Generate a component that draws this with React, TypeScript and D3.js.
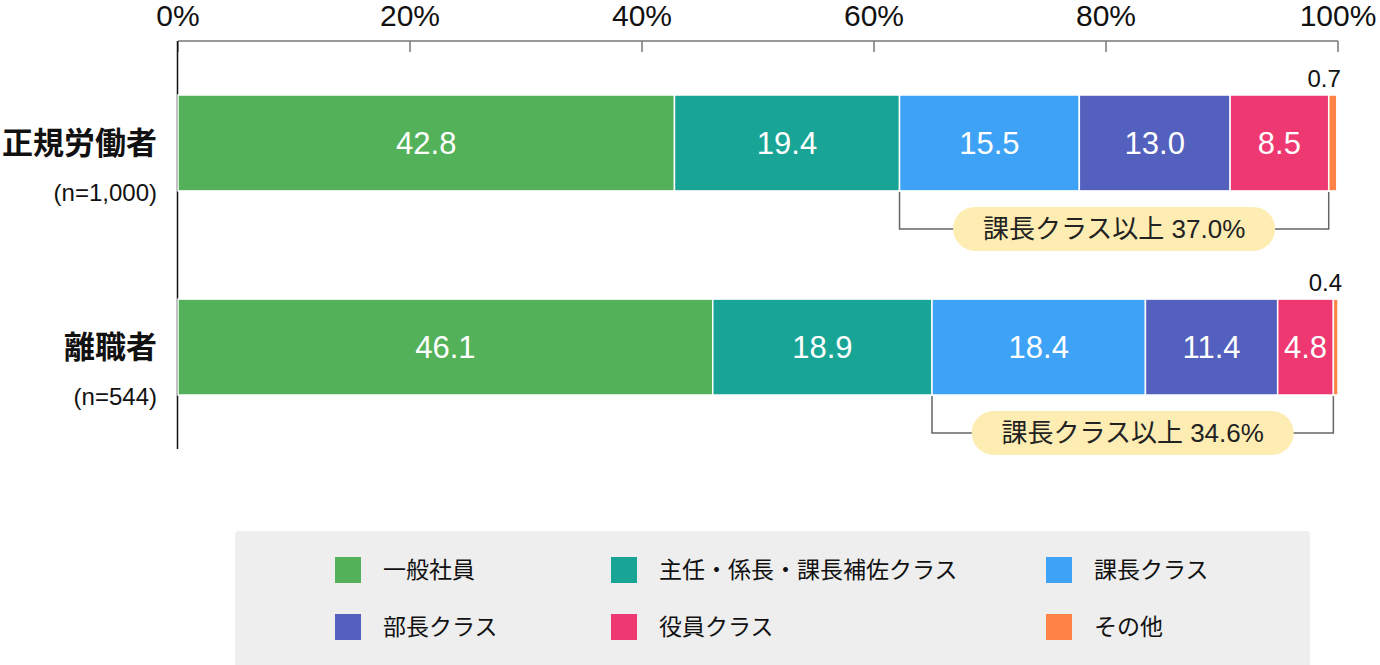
import * as d3 from 'd3';
import React, { useEffect, useRef } from 'react';

const categories = ['正規労働者', '離職者'];
const sampleLabels = ['(n=1,000)', '(n=544)'];
const seriesNames = ['一般社員', '主任・係長・課長補佐クラス', '課長クラス', '部長クラス', '役員クラス', 'その他'];
const regularValues = [42.8, 19.4, 15.5, 13.0, 8.5, 0.7];
const leaverValues = [46.1, 18.9, 18.4, 11.4, 4.8, 0.4];
const bracketLabels = ['課長クラス以上 37.0%', '課長クラス以上 34.6%'];
const tickValues = [0, 20, 40, 60, 80, 100];
const colors = ['#53b159', '#19a596', '#3ea3f7', '#5460bd', '#ee3871', '#ff8246'];

const FONT = '"Liberation Sans", "Noto Sans CJK JP", sans-serif';

export default () => {
    const ref = useRef<any>();

    function draw() {
        const width = 1380;
        const height = 665;

        const svg = d3.select<any, any>(ref.current)
            .attr('width', width)
            .attr('height', height)
            .style('font-family', FONT);
        svg.selectAll('*').remove();

        const rows = categories.map((c, i) => {
            const vals = i === 0 ? regularValues : leaverValues;
            const row: any = { category: c };
            seriesNames.forEach((s, j) => (row[s] = vals[j]));
            return row;
        });

        const xScale = d3.scaleLinear().domain([0, 100]).range([178, 1338]);
        const yScale = d3.scaleBand().domain(categories).range([95, 395]).paddingInner(0.53);
        const stacked = d3.stack<any>().keys(seriesNames)(rows);

        // top axis
        const axisY = 41;
        svg.append('line')
            .attr('x1', xScale(0)).attr('x2', xScale(100))
            .attr('y1', axisY).attr('y2', axisY)
            .attr('stroke', '#777').attr('stroke-width', 1.5);
        svg.selectAll('.tick').data(tickValues).join('line')
            .attr('x1', (d) => xScale(d)).attr('x2', (d) => xScale(d))
            .attr('y1', axisY).attr('y2', axisY + 11)
            .attr('stroke', '#777').attr('stroke-width', 1.5);
        svg.selectAll('.tickLabel').data(tickValues).join('text')
            .attr('x', (d) => xScale(d))
            .attr('y', 26)
            .attr('text-anchor', 'middle')
            .attr('font-size', 30)
            .attr('fill', '#111')
            .text((d) => `${d}%`);

        // left vertical axis
        svg.append('line')
            .attr('x1', xScale(0) - 0.5).attr('x2', xScale(0) - 0.5)
            .attr('y1', axisY).attr('y2', 449)
            .attr('stroke', '#111').attr('stroke-width', 1.5);

        // bars
        stacked.forEach((series, si) => {
            svg.append('g').selectAll('rect').data(series).join('rect')
                .attr('x', (d: any) => xScale(d[0]))
                .attr('y', (d: any) => yScale(d.data.category)!)
                .attr('width', (d: any) => xScale(d[1]) - xScale(d[0]))
                .attr('height', yScale.bandwidth())
                .attr('fill', colors[si])
                .attr('stroke', '#fff')
                .attr('stroke-width', 1.5);

            svg.append('g').selectAll('text').data(series).join('text')
                .attr('x', (d: any) => {
                    const v = d[1] - d[0];
                    return v >= 3 ? xScale((d[0] + d[1]) / 2) : xScale(d[1]) + 4;
                })
                .attr('y', (d: any) => {
                    const v = d[1] - d[0];
                    return v >= 3 ? yScale(d.data.category)! + yScale.bandwidth() / 2 + 11 : yScale(d.data.category)! - 8;
                })
                .attr('text-anchor', (d: any) => (d[1] - d[0] >= 3 ? 'middle' : 'end'))
                .attr('font-size', (d: any) => (d[1] - d[0] >= 3 ? 31 : 24))
                .attr('fill', (d: any) => (d[1] - d[0] >= 3 ? '#fff' : '#111'))
                .text((d: any) => (d[1] - d[0]).toFixed(1));
        });

        // category labels
        categories.forEach((c, i) => {
            const y0 = yScale(c)!;
            svg.append('text')
                .attr('x', 157).attr('y', y0 + yScale.bandwidth() / 2 + 11)
                .attr('text-anchor', 'end')
                .attr('font-size', 31).attr('font-weight', 'bold')
                .attr('fill', '#111')
                .text(c);
            svg.append('text')
                .attr('x', 157).attr('y', y0 + yScale.bandwidth() + 10)
                .attr('text-anchor', 'end')
                .attr('font-size', 24)
                .attr('fill', '#111')
                .text(sampleLabels[i]);
        });

        // brackets: 課長クラス以上 (index 2..4)
        categories.forEach((c, i) => {
            const start = stacked[2][i][0];
            const end = stacked[4][i][1];
            const x1 = xScale(start);
            const x2 = xScale(end);
            const yTop = yScale(c)! + yScale.bandwidth() + 1;
            const yLine = yTop + 37;
            svg.append('path')
                .attr('d', `M${x1},${yTop}V${yLine}H${x2}V${yTop}`)
                .attr('fill', 'none')
                .attr('stroke', '#666')
                .attr('stroke-width', 1.5);
            const cx = (x1 + x2) / 2;
            const pw = 322;
            const ph = 44;
            svg.append('rect')
                .attr('x', cx - pw / 2).attr('y', yLine - ph / 2)
                .attr('width', pw).attr('height', ph)
                .attr('rx', ph / 2)
                .attr('fill', '#feedb3');
            svg.append('text')
                .attr('x', cx).attr('y', yLine + 9)
                .attr('text-anchor', 'middle')
                .attr('font-size', 26)
                .attr('fill', '#222')
                .text(bracketLabels[i]);
        });

        // legend
        svg.append('rect')
            .attr('x', 235).attr('y', 531)
            .attr('width', 1075).attr('height', 145)
            .attr('rx', 4)
            .attr('fill', '#eeeeee');
        const colX = [335, 611, 1046];
        const rowY = [570, 627];
        seriesNames.forEach((s, i) => {
            const x = colX[i % 3];
            const y = rowY[Math.floor(i / 3)];
            svg.append('rect')
                .attr('x', x).attr('y', y - 13)
                .attr('width', 26).attr('height', 26)
                .attr('fill', colors[i]);
            svg.append('text')
                .attr('x', x + 48).attr('y', y + 8)
                .attr('font-size', 23)
                .attr('fill', '#111')
                .text(s);
        });
    }

    useEffect(() => {
        draw();
    });

    return (
        <svg ref={ref} style={{ position: 'absolute', left: 0, top: 0 }}></svg>
    );
};
